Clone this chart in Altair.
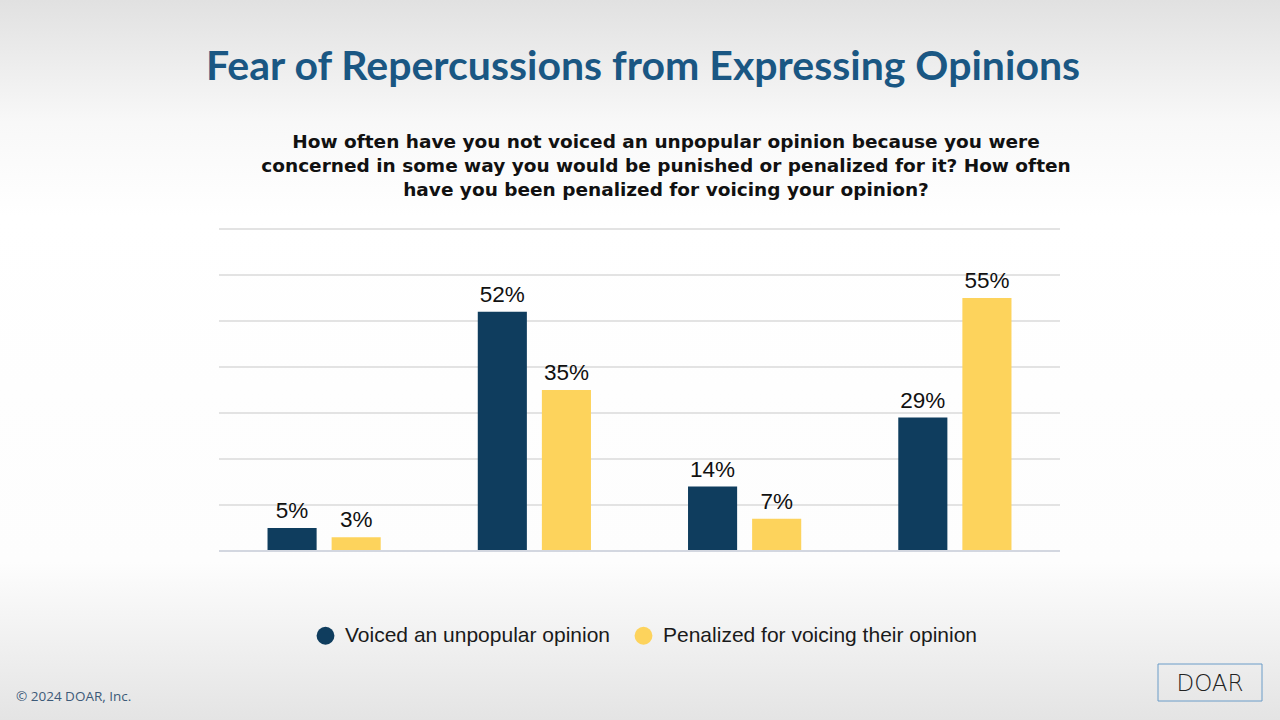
import altair as alt
import pandas as pd

categories = ["All the time", "Sometimes", "Often", "Never"]
series_names = ["Voiced an unpopular opinion", "Penalized for voicing their opinion"]
voiced = [5, 52, 14, 29]
penalized = [3, 35, 7, 55]
series_colors = ["#0f3d5e", "#fdd35c"]
y_ticks = [10, 20, 30, 40, 50, 60, 70]

title_text = "Fear of Repercussions from Expressing Opinions"
subtitle_lines = [
    "How often have you not voiced an unpopular opinion because you were",
    "concerned in some way you would be punished or penalized for it? How often",
    "have you been penalized for voicing your opinion?",
]
footer_text = "\u00a9 2024 DOAR, Inc."
logo_text = "DOAR"

rows = []
for i, c in enumerate(categories):
    rows.append({"category": c, "series": series_names[0], "value": voiced[i]})
    rows.append({"category": c, "series": series_names[1], "value": penalized[i]})
df = pd.DataFrame(rows)
grid_df = pd.DataFrame({"tick": y_ticks})

W, H = 841, 322
L, T = 219, 229

one = pd.DataFrame({"a": [0]})

bg = alt.Chart(one).mark_rect(
    color=alt.Gradient(
        gradient="linear",
        stops=[
            alt.GradientStop(color="#e1e1e1", offset=0),
            alt.GradientStop(color="#f8f8f8", offset=0.17),
            alt.GradientStop(color="#ffffff", offset=0.3),
            alt.GradientStop(color="#fdfdfd", offset=0.78),
            alt.GradientStop(color="#f3f3f3", offset=0.87),
            alt.GradientStop(color="#e4e4e4", offset=1),
        ],
        x1=0, x2=0, y1=0, y2=1,
    )
).encode(
    x=alt.value(-L), x2=alt.value(1280 - L), y=alt.value(-T), y2=alt.value(720 - T)
)

yscale = alt.Scale(domain=[0, 70], nice=False)

grid = alt.Chart(grid_df).mark_rule(color="#e3e3e3", strokeWidth=2).encode(
    y=alt.Y("tick:Q", scale=yscale, axis=None)
)

base = alt.Chart(df).encode(
    x=alt.X(
        "category:N",
        sort=categories,
        scale=alt.Scale(paddingInner=0, paddingOuter=0),
        axis=alt.Axis(
            title=None, domain=False, ticks=False, labelAngle=0,
            labelFont="Liberation Sans", labelFontSize=19, labelColor="#595959",
            labelPadding=26,
        ),
    ),
    xOffset=alt.XOffset(
        "series:N", sort=series_names,
        scale=alt.Scale(paddingInner=0.234, paddingOuter=0.757),
    ),
    y=alt.Y("value:Q", scale=yscale, axis=None),
)

bars = base.mark_bar().encode(
    color=alt.Color(
        "series:N", sort=series_names,
        scale=alt.Scale(domain=series_names, range=series_colors),
        legend=alt.Legend(
            title=None, orient="none", legendX=96, legendY=396,
            direction="horizontal", symbolType="circle", symbolSize=320,
            symbolStrokeWidth=0, labelFont="Liberation Sans", labelFontSize=21,
            labelColor="#1a1a1a", columnPadding=22, labelLimit=400, labelOffset=9,
        ),
    )
)

zero_rule = alt.Chart(one).mark_rule(color="#d3d7e0", strokeWidth=2).encode(
    y=alt.value(H)
)

labels = base.mark_text(
    baseline="bottom", dy=-5, font="Liberation Sans", fontSize=22.5, color="#111111"
).transform_calculate(label="datum.value + '%'").encode(text="label:N")

title = alt.Chart(one).mark_text(
    text=title_text, font="Lato", fontWeight="bold", fontSize=41,
    color="#1a5783", align="center", baseline="alphabetic",
).encode(x=alt.value(643 - L), y=alt.value(80 - T))

subtitle = alt.Chart(one).mark_text(
    text=subtitle_lines, font="DejaVu Sans", fontWeight="bold", fontSize=18.5,
    color="#111111", align="center", baseline="alphabetic", lineHeight=24,
).encode(x=alt.value(666 - L), y=alt.value(148 - T))

footer = alt.Chart(one).mark_text(
    text=footer_text, font="Open Sans", fontSize=13.5, color="#3d5a78",
    align="left", baseline="middle",
).encode(x=alt.value(16 - L), y=alt.value(697 - T))

logo_box = alt.Chart(one).mark_rect(
    filled=False, stroke="#6a9cc8", strokeWidth=1
).encode(
    x=alt.value(1158 - L), x2=alt.value(1262 - L),
    y=alt.value(664 - T), y2=alt.value(701 - T),
)

logo = alt.Chart(one).mark_text(
    text=logo_text, font="DejaVu Sans", fontSize=23, color="#222222",
    align="center", baseline="middle", fontWeight=300,
).encode(x=alt.value(1210 - L), y=alt.value(684 - T))

chart = alt.layer(
    bg, grid, bars, zero_rule, labels, title, subtitle, footer, logo_box, logo
).properties(
    width=W, height=H,
    padding={"left": L, "top": T, "right": 1280 - L - W, "bottom": 720 - T - H},
    autosize=alt.AutoSizeParams(type="none"),
).configure_view(stroke=None).configure(background="#ffffff")

chart.save("out.html", embed_options={"renderer": "svg", "actions": False})
